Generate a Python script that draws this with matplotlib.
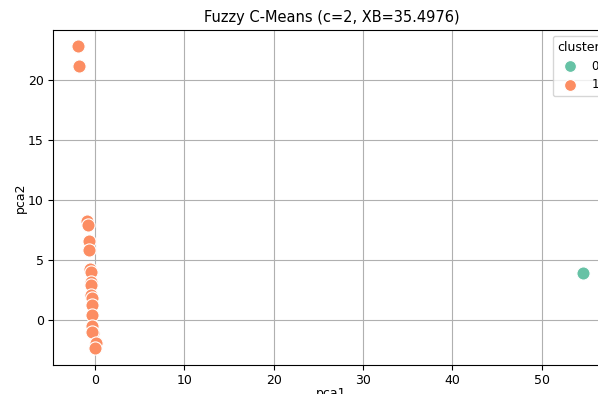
import matplotlib.pyplot as plt

# cluster 1 points (pca1, pca2)
c1_x = [-1.87, -1.76, -0.86, -0.80, -0.64, -0.62, -0.56, -0.50, -0.48, -0.45,
        -0.42, -0.38, -0.35, -0.30, -0.28, -0.25, -0.30, 0.10, 0.05]
c1_y = [22.85, 21.2, 8.28, 7.95, 6.6, 5.85, 4.28, 4.0, 3.17, 2.9,
        2.07, 1.8, 1.24, 0.41, -0.5, -1.08, -1.0, -1.9, -2.3]
# cluster 0 points
c0_x = [54.65]
c0_y = [3.9]

fig = plt.figure(figsize=(5.98, 3.94), dpi=100)
ax = fig.add_axes([0.0886, 0.0736, 0.931, 0.8503])

ax.scatter(c0_x, c0_y, s=90, c='#66c2a5', edgecolors='white', linewidths=0.8, label='0', zorder=3)
ax.scatter(c1_x, c1_y, s=90, c='#fc8d62', edgecolors='white', linewidths=0.8, label='1', zorder=3)

ax.set_xlim(-4.7, 57.6)
ax.set_ylim(-3.75, 24.2)
ax.set_xticks([0, 10, 20, 30, 40, 50])
ax.set_yticks([0, 5, 10, 15, 20])
ax.tick_params(labelsize=9, pad=3)
ax.grid(True, color='#b0b0b0', linewidth=0.8)
ax.set_axisbelow(True)

ax.set_title("Fuzzy C-Means (c=2, XB=35.4976)", fontsize=10.5)
ax.set_xlabel("pca1", fontsize=9, labelpad=0)
ax.set_ylabel("pca2", fontsize=9, labelpad=1)

ax.legend(title='cluster', loc='upper left', bbox_to_anchor=(0.887, 1.0),
          fontsize=8.5, title_fontsize=9, markerscale=0.9)

plt.savefig("out.png", dpi=100)
